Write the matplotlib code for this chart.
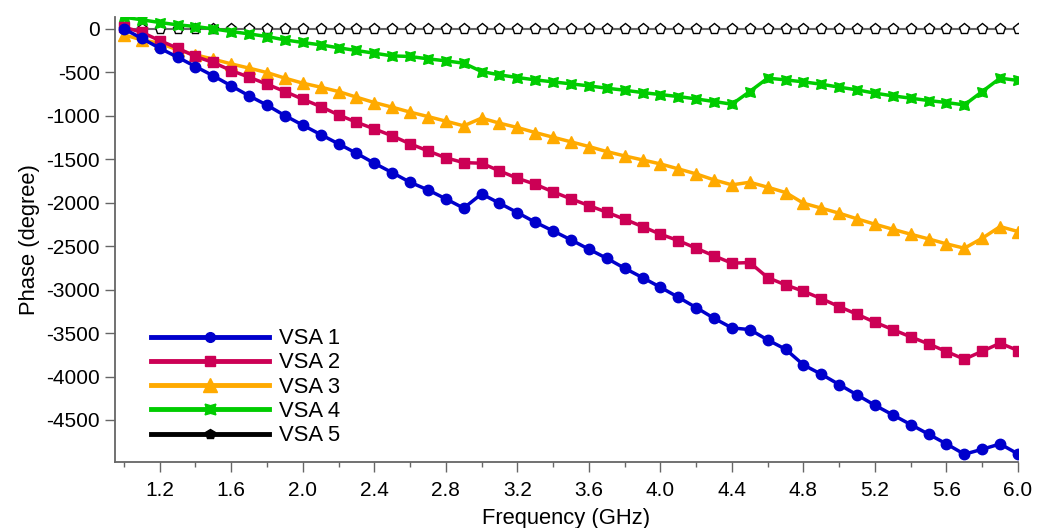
import numpy as np
import matplotlib
matplotlib.use("Agg")
import matplotlib.pyplot as plt
from matplotlib.lines import Line2D

plt.rcParams['font.family'] = ['Liberation Sans', 'DejaVu Sans']
plt.rcParams['axes.unicode_minus'] = False

freq = [round(1.0 + 0.1 * i, 1) for i in range(51)]

vsa1 = [0, -110, -222, -326, -434, -541, -656, -771, -878, -998,
        -1108, -1216, -1323, -1431, -1546, -1654, -1765, -1853, -1956, -2063,
        -1899, -2006, -2114, -2225, -2325, -2428, -2535, -2640, -2754, -2862,
        -2973, -3088, -3207, -3330, -3441, -3460, -3579, -3686, -3866, -3974,
        -4093, -4212, -4331, -4442, -4553, -4664, -4776, -4894, -4837, -4776,
        -4891]
vsa2 = [20, -40, -135, -222, -318, -387, -480, -556, -637, -721,
        -809, -894, -990, -1074, -1151, -1231, -1323, -1404, -1484, -1539,
        -1546, -1634, -1719, -1788, -1876, -1956, -2033, -2110, -2190, -2275,
        -2363, -2436, -2524, -2612, -2696, -2689, -2862, -2946, -3019, -3104,
        -3196, -3284, -3376, -3460, -3544, -3625, -3713, -3801, -3709, -3617,
        -3701]
vsa3 = [-69, -127, -165, -242, -299, -349, -403, -452, -503, -567,
        -625, -671, -721, -786, -848, -901, -958, -1009, -1062, -1116,
        -1027, -1085, -1135, -1193, -1247, -1300, -1354, -1412, -1462, -1508,
        -1554, -1611, -1669, -1738, -1795, -1765, -1822, -1883, -2006, -2063,
        -2121, -2186, -2248, -2306, -2363, -2417, -2474, -2524, -2409, -2275,
        -2332]
vsa4 = [134, 104, 73, 46, 27, 0, -31, -58, -88, -127,
        -157, -184, -218, -249, -280, -311, -318, -345, -368, -395,
        -491, -529, -560, -587, -610, -633, -656, -683, -706, -733,
        -756, -779, -806, -836, -867, -721, -567, -587, -610, -637,
        -671, -702, -740, -771, -798, -825, -848, -875, -721, -567,
        -594]
vsa5 = [0] * 51

labels = ['VSA 1', 'VSA 2', 'VSA 3', 'VSA 4', 'VSA 5']
colors = ['#0000cc', '#cc0055', '#ffaa00', '#00cc00', '#000000']
star4 = (4, 1, 45)

fig = plt.figure(figsize=(10.39, 5.28), dpi=100)
ax = fig.add_axes([0.1107, 0.1256, 0.8691, 0.8428])

ax.plot(freq, vsa5, color='#666666', lw=1.5, marker='p', ms=8,
        mfc='white', mec='black', mew=1.0, zorder=2)
ax.plot(freq, vsa4, color=colors[3], lw=2.5, marker=star4, ms=10, zorder=3)
ax.plot(freq, vsa3, color=colors[2], lw=2.5, marker='^', ms=8, zorder=4)
ax.plot(freq, vsa2, color=colors[1], lw=2.5, marker='s', ms=7, zorder=5)
ax.plot(freq, vsa1, color=colors[0], lw=2.5, marker='o', ms=7.5, zorder=6)

ax.set_xlim(0.95, 6.0)
ax.set_ylim(-4980, 140)

ax.set_xticks(np.arange(1.2, 6.01, 0.4))
ax.set_xticklabels([f"{v:.1f}" for v in np.arange(1.2, 6.01, 0.4)])
ax.set_xticks(np.arange(1.0, 6.01, 0.4), minor=True)
ax.set_yticks(np.arange(0, -4501, -500))

for s in ['top', 'right']:
    ax.spines[s].set_visible(False)
for s in ['left', 'bottom']:
    ax.spines[s].set_color('#666666')
    ax.spines[s].set_linewidth(1.3)

ax.tick_params(axis='both', which='major', direction='out', length=7,
               width=1.0, color='#666666', labelsize=15)
ax.tick_params(axis='x', which='major', pad=7)
ax.tick_params(axis='y', which='major', pad=4)
ax.tick_params(axis='x', which='minor', direction='out', length=3.6,
               width=1.0, color='#666666')

ax.set_xlabel('Frequency (GHz)', fontsize=15.8, labelpad=6)
ax.set_ylabel('Phase (degree)', fontsize=15.8, labelpad=4)

handles = [
    Line2D([], [], color=colors[0], lw=3.5, marker='o', ms=7),
    Line2D([], [], color=colors[1], lw=3.5, marker='s', ms=7),
    Line2D([], [], color=colors[2], lw=3.5, marker='^', ms=10),
    Line2D([], [], color=colors[3], lw=3.5, marker=star4, ms=11),
    Line2D([], [], color=colors[4], lw=3.5, marker='p', ms=7),
]
ax.legend(handles, labels, loc='upper left', bbox_to_anchor=(0.0395, 0.30),
          frameon=False, fontsize=15.8, handlelength=5.4, handletextpad=0.45,
          labelspacing=0.15, borderpad=0, borderaxespad=0)

fig.savefig('out.png', dpi=100)
